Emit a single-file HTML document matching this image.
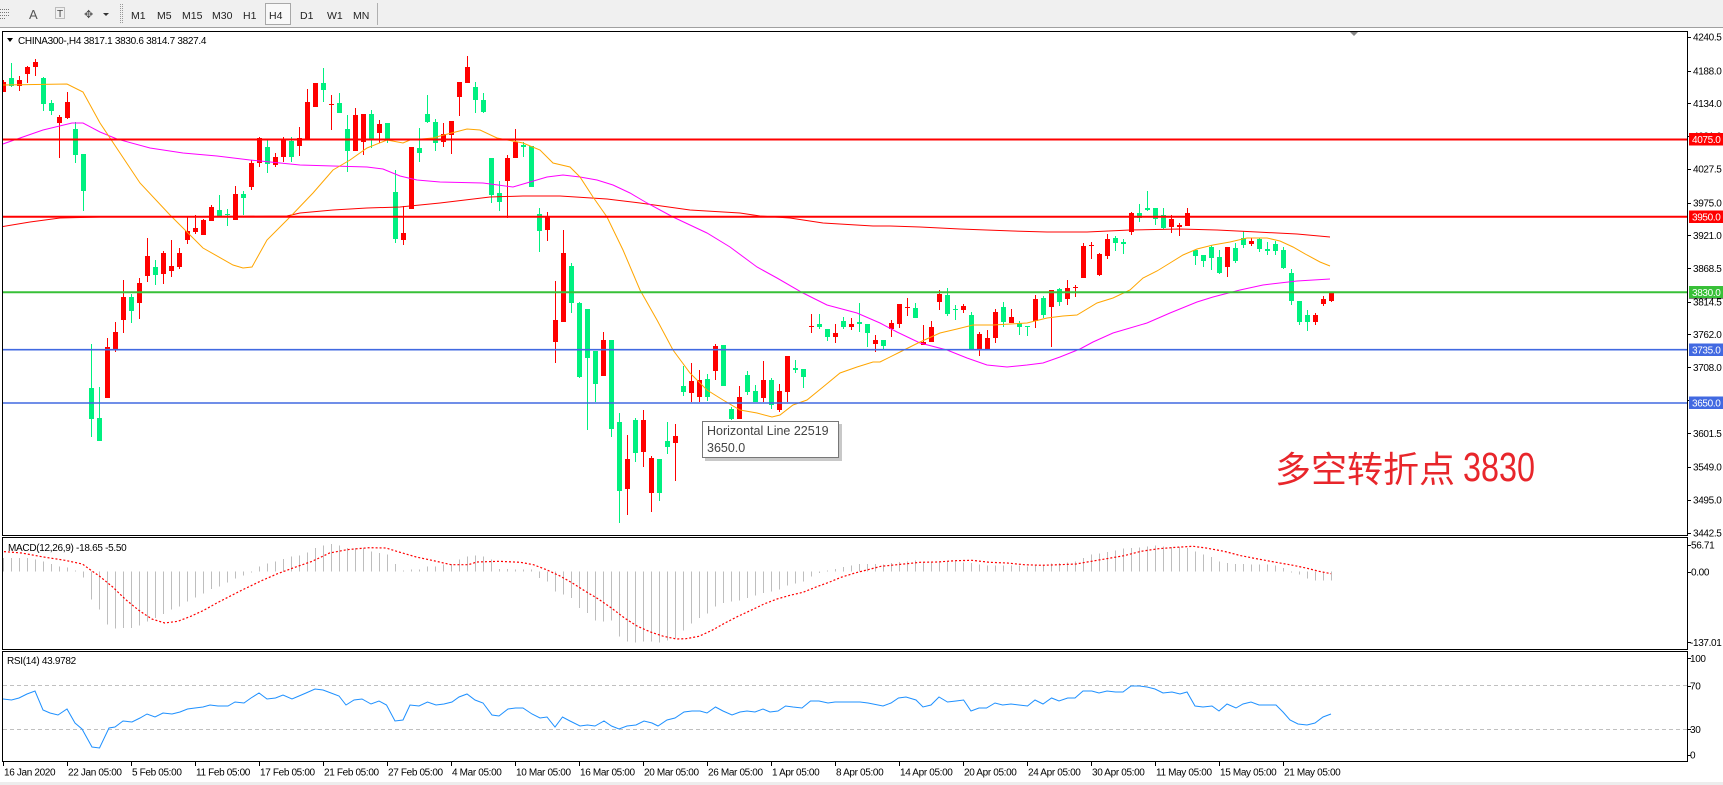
<!DOCTYPE html>
<html><head><meta charset="utf-8">
<style>
html,body{margin:0;padding:0;background:#fff;}
body{width:1723px;height:785px;overflow:hidden;position:relative;}
svg{position:absolute;left:0;top:0;}
text{font-family:"Liberation Sans","Noto Sans CJK SC",sans-serif;}
.ax{font-size:10px;fill:#000;letter-spacing:-0.35px;}
.tb{font-size:10.5px;fill:#222;}
.lbw{font-size:10px;fill:#fff;letter-spacing:-0.35px;}
</style></head>
<body>
<svg id="s" width="1723" height="785" viewBox="0 0 1723 785" xmlns="http://www.w3.org/2000/svg">
<defs>
<clipPath id="cm"><rect x="3" y="32" width="1684" height="503"/></clipPath>
<clipPath id="cd"><rect x="3" y="538" width="1684" height="111"/></clipPath>
<clipPath id="cr"><rect x="3" y="652" width="1684" height="109"/></clipPath>
</defs>
<!-- toolbar -->
<rect x="0" y="0" width="1723" height="27" fill="#F0F0F0"/>
<line x1="0" y1="27.5" x2="1723" y2="27.5" stroke="#A0A0A0"/>
<g stroke="#777" stroke-width="1">
<line x1="0" y1="9.5" x2="9" y2="9.5" stroke-dasharray="1,1"/>
<line x1="0" y1="12.5" x2="9" y2="12.5" stroke-dasharray="1,1"/>
<line x1="0" y1="15.5" x2="9" y2="15.5" stroke-dasharray="1,1"/>
<line x1="0" y1="18.5" x2="6" y2="18.5" stroke-dasharray="1,1"/>
</g>
<text x="29" y="19" style="font-size:13px;fill:#555">A</text>
<rect x="55.5" y="7.5" width="9" height="11" fill="none" stroke="#888" stroke-dasharray="1,1"/>
<text x="57" y="17" style="font-size:10px;fill:#444">T</text>
<text x="84" y="18" style="font-size:11px;fill:#555">✥</text>
<polygon points="103,13 109,13 106,16" fill="#333"/>
<line x1="120.5" y1="4" x2="120.5" y2="24" stroke="#999" stroke-dasharray="1,1"/>
<line x1="122.5" y1="4" x2="122.5" y2="24" stroke="#999" stroke-dasharray="1,1"/>
<text class="tb" x="131" y="19">M1</text>
<text class="tb" x="157" y="19">M5</text>
<text class="tb" x="182" y="19">M15</text>
<text class="tb" x="212" y="19">M30</text>
<text class="tb" x="243" y="19">H1</text>
<rect x="265.5" y="3.5" width="25" height="21" fill="#F8F8F8" stroke="#A8A8A8"/>
<text class="tb" x="269" y="19">H4</text>
<text class="tb" x="300" y="19">D1</text>
<text class="tb" x="327" y="19">W1</text>
<text class="tb" x="353" y="19">MN</text>
<line x1="377.5" y1="3" x2="377.5" y2="25" stroke="#B0B0B0"/>

<!-- panel borders -->
<rect x="2.5" y="31.5" width="1685" height="504" fill="#fff" stroke="#000"/>
<rect x="2.5" y="537.5" width="1685" height="112" fill="#fff" stroke="#000"/>
<rect x="2.5" y="651.5" width="1685" height="110" fill="#fff" stroke="#000"/>

<g id="main" clip-path="url(#cm)"></g>
<g id="macd" clip-path="url(#cd)"></g>
<g id="rsi" clip-path="url(#cr)">
<line x1="3" y1="685.5" x2="1687" y2="685.5" stroke="#C0C0C0" stroke-dasharray="4,3"/>
<line x1="3" y1="729.5" x2="1687" y2="729.5" stroke="#C0C0C0" stroke-dasharray="4,3"/>
</g>

<!-- headers -->
<polygon points="7,38 13,38 10,42" fill="#000"/>
<text x="18" y="44" style="font-size:10px;fill:#000;letter-spacing:-0.3px">CHINA300-,H4  3817.1 3830.6 3814.7 3827.4</text>
<text x="8" y="551" style="font-size:10px;fill:#000;letter-spacing:-0.3px">MACD(12,26,9) -18.65 -5.50</text>
<text x="7" y="664" style="font-size:10px;fill:#000;letter-spacing:-0.3px">RSI(14) 43.9782</text>
<polygon points="1350,32 1358,32 1354,36" fill="#888"/>

<!-- tooltip -->
<rect x="705" y="424" width="137" height="37" fill="#C8C8C8"/>
<rect x="702.5" y="421.5" width="136" height="36" fill="#fff" stroke="#777"/>
<text x="707" y="435" style="font-size:12.5px;fill:#444">Horizontal Line 22519</text>
<text x="707" y="452" style="font-size:12.5px;fill:#444">3650.0</text>

<!-- annotation -->
<text x="1275" y="482" style="font-size:36px;fill:#E8262B">多空转折点</text>
<text x="1463" y="481" textLength="72" lengthAdjust="spacingAndGlyphs" style="font-size:41px;fill:#E8262B">3830</text>

<!-- right axis main -->
<g class="ax">
<text x="1693" y="40.6">4240.5</text>
<text x="1693" y="74.3">4188.0</text>
<text x="1693" y="106.9">4134.0</text>
<text x="1693" y="139.6">4081.0</text>
<text x="1693" y="172.6">4027.5</text>
<text x="1693" y="206.3">3975.0</text>
<text x="1693" y="238.9">3921.0</text>
<text x="1693" y="271.9">3868.5</text>
<text x="1693" y="305.3">3814.5</text>
<text x="1693" y="337.9">3762.0</text>
<text x="1693" y="370.9">3708.0</text>
<text x="1693" y="403.6">3655.0</text>
<text x="1693" y="436.9">3601.5</text>
<text x="1693" y="470.3">3549.0</text>
<text x="1693" y="503.6">3495.0</text>
<text x="1693" y="536.3">3442.5</text>
<text x="1691" y="548.6">56.71</text>
<text x="1691" y="575.3">0.00</text>
<text x="1690" y="645.9">-137.01</text>
<text x="1690" y="661.9">100</text>
<text x="1690" y="689.3">70</text>
<text x="1690" y="732.9">30</text>
<text x="1690" y="758.6">0</text>
</g>
<g stroke="#000" id="rt"></g>

<!-- colored price labels -->
<rect x="1689" y="133" width="34" height="12.5" fill="#FF0000"/>
<text class="lbw" x="1692" y="143">4075.0</text>
<rect x="1689" y="210.5" width="34" height="12.5" fill="#FF0000"/>
<text class="lbw" x="1692" y="220.5">3950.0</text>
<rect x="1689" y="296.5" width="34" height="2" fill="#000"/>
<rect x="1689" y="286" width="34" height="12" fill="#38C038"/>
<text class="lbw" x="1692" y="295.8">3830.0</text>
<rect x="1689" y="343.5" width="34" height="12.5" fill="#4169E1"/>
<text class="lbw" x="1692" y="353.5">3735.0</text>
<rect x="1689" y="396.5" width="34" height="12.5" fill="#4169E1"/>
<text class="lbw" x="1692" y="406.5">3650.0</text>

<!-- x axis -->
<g class="ax">
<text x="4" y="775.5">16 Jan 2020</text>
<text x="68" y="775.5">22 Jan 05:00</text>
<text x="132" y="775.5">5 Feb 05:00</text>
<text x="196" y="775.5">11 Feb 05:00</text>
<text x="260" y="775.5">17 Feb 05:00</text>
<text x="324" y="775.5">21 Feb 05:00</text>
<text x="388" y="775.5">27 Feb 05:00</text>
<text x="452" y="775.5">4 Mar 05:00</text>
<text x="516" y="775.5">10 Mar 05:00</text>
<text x="580" y="775.5">16 Mar 05:00</text>
<text x="644" y="775.5">20 Mar 05:00</text>
<text x="708" y="775.5">26 Mar 05:00</text>
<text x="772" y="775.5">1 Apr 05:00</text>
<text x="836" y="775.5">8 Apr 05:00</text>
<text x="900" y="775.5">14 Apr 05:00</text>
<text x="964" y="775.5">20 Apr 05:00</text>
<text x="1028" y="775.5">24 Apr 05:00</text>
<text x="1092" y="775.5">30 Apr 05:00</text>
<text x="1156" y="775.5">11 May 05:00</text>
<text x="1220" y="775.5">15 May 05:00</text>
<text x="1284" y="775.5">21 May 05:00</text>
</g>
<g id="xt" stroke="#000"></g>
<rect x="0" y="782" width="1723" height="3" fill="#EDEDED"/>
</svg>
<script>
(function(){
var NS="http://www.w3.org/2000/svg";
function el(p,t,a){var e=document.createElementNS(NS,t);for(var k in a)e.setAttribute(k,a[k]);p.appendChild(e);return e;}
var main=document.getElementById('main'),macd=document.getElementById('macd'),rsi=document.getElementById('rsi');
var C=[[1,80,82,92,92],[0,63,78,86,87],[1,76,80,86,91],[1,66,67,74,83],[1,59,62,67,76],[0,77,78,104,111],[0,100,103,111,115],[1,115,117,123,158],[1,92,102,118,119],[0,122,129,155,163],
[0,154,154,191,211],[0,344,388,419,437],[0,387,418,441,441],[1,338,347,398,398],[1,322,332,350,352],[1,280,297,320,333],[0,294,297,311,323],[1,278,283,303,319],[1,238,256,276,282],[0,260,267,275,285],
[1,251,253,274,284],[1,240,266,271,277],[1,248,253,267,269],[1,217,231,240,244],[1,215,228,232,234],[1,219,220,235,235],[1,205,207,221,221],[0,195,210,216,217],[0,209,214,215,226],[1,186,194,220,220],
[0,191,194,198,215],[1,160,163,187,190],[1,137,138,163,167],[0,140,147,164,173],[1,153,157,165,167],[1,137,140,157,162],[0,137,141,157,162],[1,127,138,146,156],[1,89,102,139,139],[1,83,83,107,107],
[0,68,83,90,102],[1,95,104,105,130],[0,93,103,113,113],[0,115,129,151,172],[1,108,115,151,151],[1,114,114,142,155],[0,110,114,140,148],[1,120,124,133,143],[0,123,123,140,143],[0,170,192,239,243],
[1,206,233,240,245],[1,147,147,209,209],[0,128,148,153,162],[0,95,114,122,123],[0,119,122,143,151],[1,123,134,142,147],[1,121,121,135,154],[1,82,82,97,116],[1,56,67,83,83],[0,82,87,100,113],
[0,93,100,112,113],[0,158,158,195,203],[0,181,193,202,211],[1,155,158,181,218],[1,129,142,158,158],[0,142,145,147,157],[0,146,146,187,187],[0,208,214,231,252],[1,212,217,230,241],[1,281,320,342,363],
[1,230,253,322,322],[0,263,266,303,313],[0,302,303,377,378],[0,309,309,358,430],[0,351,351,384,402],[1,332,340,376,376],[0,340,340,429,437],[0,413,422,491,523],[1,435,459,489,515],[0,418,420,453,462],
[1,410,420,452,467],[1,456,458,493,512],[0,459,459,493,501],[0,422,441,447,454],[1,424,436,443,481],[0,366,386,392,396],[1,363,381,393,402],[1,370,380,397,402],[0,374,379,397,401],[1,344,346,371,380],
[0,345,345,386,386],[0,407,409,419,420],[1,386,397,419,419],[0,371,375,392,395],[0,385,391,402,402],[1,361,380,398,402],[0,378,380,405,409],[1,384,391,410,412],[1,356,356,392,402],[0,360,368,370,373],
[0,369,369,377,388],[1,314,326,327,333],[0,314,324,327,329],[0,329,329,337,341],[1,324,333,337,343],[0,317,321,327,329],[1,318,324,327,330],[0,303,322,324,332],[0,324,324,333,347],[1,335,340,344,352],
[0,340,340,346,349],[1,320,323,329,337],[1,304,304,324,328],[1,298,307,308,316],[0,303,308,318,318],[1,325,342,345,345],[1,321,327,342,342],[1,290,294,302,310],[0,288,295,314,316],[0,305,309,310,320],
[1,304,306,310,313],[0,312,315,349,349],[1,332,334,349,356],[1,330,338,349,349],[1,309,312,338,343],[0,302,307,322,327],[1,309,317,323,323],[0,321,323,327,335],[0,326,326,327,336],[1,295,299,321,328],
[0,296,298,315,318],[1,290,290,307,347],[0,288,289,302,306],[1,280,288,299,305],[1,285,287,288,297],[1,243,246,278,278],[1,242,245,246,259],[1,253,254,275,276],[1,234,239,256,259],[0,236,238,243,251],
[0,239,242,244,254],[1,212,213,232,235],[0,204,213,218,222],[0,191,208,210,211],[0,208,208,219,225],[0,208,215,228,229],[1,215,219,227,233],[1,223,225,227,236],[1,208,213,226,226],[0,250,250,256,265],
[0,255,255,261,267],[0,245,247,258,270],[0,250,257,273,274],[1,247,247,267,277],[0,243,248,261,263],[0,231,238,245,248],[1,238,241,244,246],[0,238,239,249,252],[0,242,249,251,255],[0,241,244,251,255],
[0,247,250,268,269],[0,269,273,301,305],[0,301,301,322,325],[0,310,315,322,331],[1,313,315,322,325],[1,296,299,304,306],[1,293,293,301,302]];
var RED="#FF0000",GRN="#00F080";
var cg=el(main,'g',{'shape-rendering':'crispEdges'});
C.forEach(function(c,i){
  var col=c[0]?RED:GRN, x=3+8*i;
  el(cg,'rect',{x:x,y:c[1],width:1,height:Math.max(1,c[4]-c[1]),fill:col});
  el(cg,'rect',{x:x-2,y:c[2],width:5,height:Math.max(1,c[3]-c[2]),fill:col});
});
function pl(p,pts,col,extra){var a={points:pts.join(' '),fill:'none',stroke:col,'stroke-width':1};for(var k in extra)a[k]=extra[k];return el(p,'polyline',a);}
var RMA=[0,227,30,222,60,218,100,217,200,216.5,287,216,300,213,333,210,367,208,400,207,440,203,490,197,523,196,560,196,607,199,640,203,690,210,740,213,760,216,790,218,823,223,873,226,890,226,920,227,960,229,1013,231,1047,232,1087,232,1130,230,1180,229,1217,230,1257,232,1297,234,1330,237];
var MAG=[0,145,20,138,43,130,72,123,83,123,100,132,117,139,150,148,183,153,217,156,250,160,300,165,333,166,367,167,383,169,400,176,417,180,440,182,483,183,513,187,530,182,547,177,563,175,580,177,597,180,613,185,630,193,647,203,673,217,707,233,730,247,757,267,777,278,803,293,827,305,857,313,880,323,897,332,920,343,947,350,967,358,987,365,1007,367,1027,365,1043,363,1060,357,1080,349,1093,342,1113,333,1147,323,1170,313,1197,302,1213,297,1240,290,1263,285,1297,281,1330,279];
var ORG=[0,85,67,84,83,92,100,123,140,183,170,215,203,248,233,265,243,268,252,267,267,240,290,217,313,193,333,170,350,160,367,148,387,140,403,143,410,140,433,138,440,136,467,129,480,130,497,138,523,143,540,150,553,163,570,167,580,177,593,197,607,217,623,250,640,290,657,320,673,350,690,373,707,390,723,400,740,410,757,413,772,417,780,415,793,405,807,400,823,387,840,373,857,367,873,362,880,362,900,352,920,342,940,333,957,329,973,325,993,325,1027,323,1047,318,1063,316,1077,315,1097,303,1113,298,1130,290,1143,278,1157,271,1170,263,1183,255,1197,249,1213,245,1230,242,1247,238,1267,238,1280,241,1293,247,1307,255,1320,262,1330,266];
function pairs(a){var r=[];for(var i=0;i<a.length;i+=2)r.push(a[i]+','+a[i+1]);return r;}
pl(main,pairs(RMA),RED);
pl(main,pairs(MAG),"#FF00FF");
pl(main,pairs(ORG),"#FFA500");
el(main,'line',{x1:3,x2:1687,y1:139.5,y2:139.5,stroke:RED,'stroke-width':2});
el(main,'line',{x1:3,x2:1687,y1:216.7,y2:216.7,stroke:RED,'stroke-width':2});
el(main,'line',{x1:3,x2:1687,y1:292.3,y2:292.3,stroke:"#38C038",'stroke-width':2});
el(main,'line',{x1:3,x2:1687,y1:349.7,y2:349.7,stroke:"#4169E1",'stroke-width':1.6});
el(main,'line',{x1:3,x2:1687,y1:403,y2:403,stroke:"#4169E1",'stroke-width':1.6});
var H=[75,75,75,75,80,85,93,100,103,112,133,200,230,275,287,285,285,278,265,255,243,230,220,205,193,182,168,160,148,137,128,115,100,92,85,78,70,68,58,45,37,33,38,45,45,45,55,60,65,93,113,110,110,100,100,95,93,80,70,68,70,80,108,108,110,110,110,135,145,175,185,195,225,240,263,265,263,310,325,328,325,325,328,
323,315,293,272,255,242,220,210,205,203,195,188,180,175,170,158,152,145,130,120,113,108,102,97,93,93,93,95,90,87,85,82,88,88,88,85,82,88,90,95,98,98,98,98,98,100,97,95,92,90,88,85,75,65,62,57,53,47,45,43,40,38,40,42,42,45,55,65,72,85,90,93,93,95,95,95,97,105,115,125,137,143,143,143];
var hg=el(macd,'g',{'shape-rendering':'crispEdges'});
var z=533+115/3;
H.forEach(function(v,i){var y=533+v/3;var x=3+8*i;el(hg,'rect',{x:x,y:Math.min(y,z),width:1,height:Math.max(1,Math.abs(y-z)),fill:"#BEBEBE"});});
var SG=[0,551.3,21.7,553,43.4,557,65,560.3,82.4,564,91,570.3,99.7,576.3,112.7,587,125.8,599.7,138.8,610.3,151.8,619,164.8,623,177.8,621.3,190.8,616.3,203.8,610.3,216.8,603,229.8,596.3,242.8,589.7,260.2,581.3,277.5,573.7,294.9,567.3,312.2,561.3,329.6,553,346.9,549.7,368.6,547.7,386,548,399,552,416.3,557,433.7,560.7,451,564.7,468.3,564.7,477,562,498.7,561.3,520.4,562.3,533.4,564.7,546.4,569.7,559.4,575.7,572.4,583,585.4,591.3,598.4,599,611.4,608,624.5,618,637.5,626.3,650.5,632,663.5,636.3,676.5,639,686,638.7,699,636.3,712,630.3,725,623,738,616.3,751,610.3,764,604,777,599,790,595.3,803,592.3,816,587,829,582.3,842,577,855,573,868,569.7,881,566.3,894,565,907,563.7,920,562.3,937.5,562,955,560.7,972,560.3,989.6,562.3,1007,563,1024,564.7,1041.6,565.3,1059,564.7,1076,564,1089,561.7,1106.7,558.7,1124,555.7,1141,551.3,1158.7,548.7,1176,547.3,1193,546.3,1206,548,1224,551.3,1241,555.7,1258,559,1276,562.3,1293,565.3,1306,568,1319,571.3,1331,573.7];
pl(macd,pairs(SG),RED,{'stroke-dasharray':'2,2','stroke-width':1.2});
var R=[3,699,11.5,700,19,698,27,694,35,691,43,710,50,713,58,715,67,709,75,723,82,729,92,747,99.5,748,109,728,115,727,123,721,132,722,140,718,147,714,155,717,163,713,172,714,180,712,187.5,709,195,708,203,707,210,705,218,706,228,706,235,702,244,703,251,698,259,693,267,699,275.5,698,283,695,292,699,299,696,306,693,315,689,323,690,331,693,339,696,346,705,354,700,362,699,371,704,379,701,386.5,705,395,721,403,720,410,705,419,706,427.5,702,436,705,444,704,452,702,459,697,467,694,475,700,483,703,492,715,499,716,508,709,515.5,708,523,708,532,714,540,718,547,717,555,727,562.5,717,570,721,580,726,587.5,725,595,726,604,721,611.5,726,619,729,627,726,636,725,644,721,652,723,658,726,667,720,675,718,684,712,692,711,700,711,707,713,715.5,707,723,711,732,715,740,712,747,711,755,712,763,709,770,712,778,711,785.6,706,793,707,802,708,810.5,701,819,701,828,703,835,702,843,702,860,702,868,703,883,706,891,703,898.5,698,906,697,916,700,923,707,931,705,939,697,947.5,702,956,701,963.6,700,971,711,979,708,986.5,708,995,703,1002.6,705,1011,704,1019,705,1027.5,706,1035,700,1043,704,1051.6,698,1059,701,1067.7,698,1075,698,1083,691,1091.8,691,1099,693,1107,691,1115.5,692,1123,692,1131,686,1139.6,686,1147,687,1155,689,1163,693,1172,692,1180,694,1187,692,1195,706,1203,707,1212,706,1219,711,1227,704,1236,708,1243,704,1251,702,1259,705,1267,705,1276,705,1283,712,1290,720,1298,724,1307,725,1315,723,1323,717,1331,714];
pl(rsi,pairs(R),"#1E90FF");
var xt=document.getElementById('xt');
for(var k=0;k<=20;k++){var x=3.5+64*k;el(xt,'line',{x1:x,x2:x,y1:762,y2:766});}
var rt=document.getElementById('rt');
[37,70.7,103.3,136,169,202.7,235.3,268.3,301.7,334.3,367.3,400,433.3,466.7,500,532.7,545,571.7,642.3,658.3,685.7,729.3,755].forEach(function(y){y=Math.round(y)+0.5;el(rt,'line',{x1:1688,x2:1691,y1:y,y2:y});});
})();
</script>
</body></html>
